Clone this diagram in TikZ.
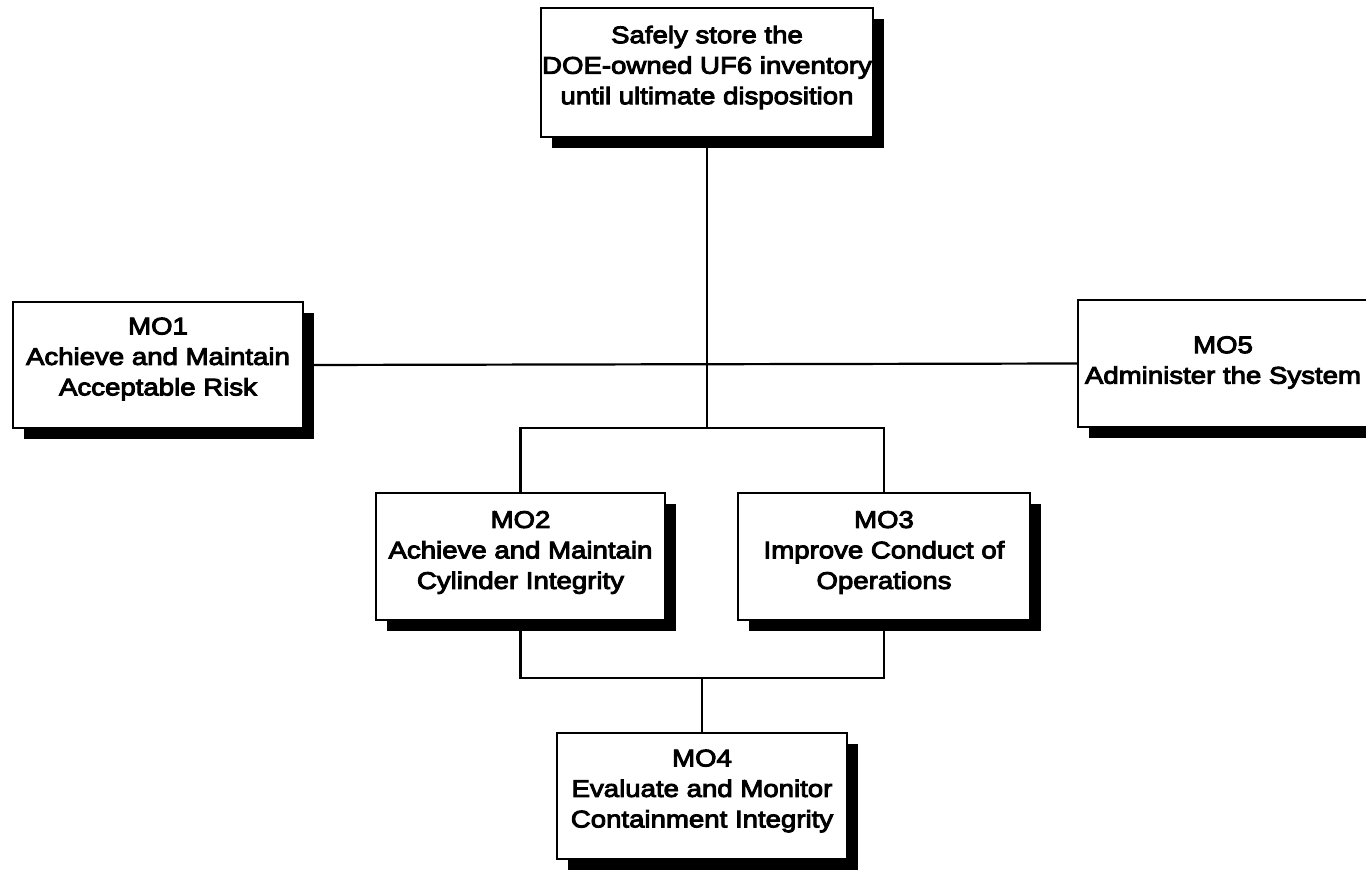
\documentclass[tikz,border=0pt]{standalone}
\usepackage{fontspec}
\setmainfont{Liberation Sans}
\newfontfamily\objfont{Liberation Sans}[FakeStretch=1.15,FakeBold=4]
\usetikzlibrary{shadows}

\tikzset{
  objbox/.style={
    draw=black, line width=2pt, fill=white, inner sep=0pt,
    minimum width=#1, minimum height=127pt,
    drop shadow={shadow xshift=11pt, shadow yshift=-11pt, fill=black, opacity=1}
  },
  objtext/.style={
    align=center, inner sep=0pt,
    font=\objfont\fontsize{24}{30.5}\selectfont
  },
  link/.style={line width=2.2pt, draw=black}
}

\begin{document}
\begin{tikzpicture}[x=1pt,y=-1pt]
  \useasboundingbox (0,0) rectangle (1366,870);

  % mission statement and objectives
  \node[objbox=332pt, minimum height=129pt,
        label={[objtext, yshift=5pt]center:Safely store the\\DOE-owned UF6 inventory\\until ultimate disposition}]
        (goal) at (707,72.5) {};

  \node[objbox=290pt, minimum height=126pt,
        label={[objtext, yshift=6pt]center:MO1\\Achieve and Maintain\\Acceptable Risk}]
        (mo1) at (158,365) {};

  \node[objbox=290pt,
        label={[objtext, yshift=1pt]center:MO5\\Administer the System}]
        (mo5) at (1223,363.5) {};

  \node[objbox=289pt,
        label={[objtext, yshift=4pt]center:MO2\\Achieve and Maintain\\Cylinder Integrity}]
        (mo2) at (520.5,556.5) {};

  \node[objbox=292pt,
        label={[objtext, yshift=4pt]center:MO3\\Improve Conduct of\\Operations}]
        (mo3) at (884,556.5) {};

  \node[objbox=290pt, minimum height=126pt,
        label={[objtext, yshift=5pt]center:MO4\\Evaluate and Monitor\\Containment Integrity}]
        (mo4) at (702,796) {};

  % junction points of the tree
  \coordinate (trunk) at (goal.south |- 0,428);
  \coordinate (low) at (mo4.north |- 0,678);

  % connectors
  \draw[link] (goal.south) -- (trunk);
  \draw[link] (mo1.east) -- (mo5.west);
  \draw[link] (mo2.north) |- (trunk) -| (mo3.north);
  \draw[link] (mo2.south) |- (low) -| (mo3.south);
  \draw[link] (low) -- (mo4.north);
\end{tikzpicture}
\end{document}
